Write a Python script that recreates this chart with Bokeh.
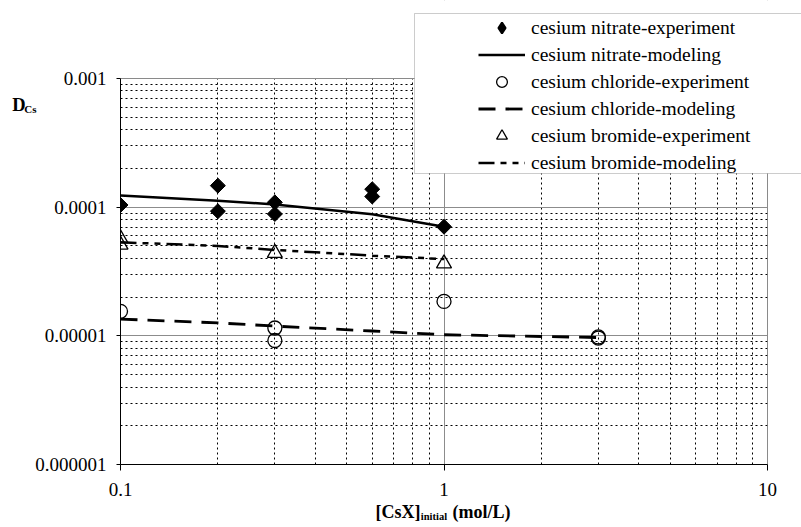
import math
from bokeh.plotting import figure
from bokeh.models import (Range1d, FixedTicker, Legend, LegendItem, BoxAnnotation, LogAxis)
from bokeh.embed import file_html
from bokeh.resources import INLINE

# ---- data ----
nitrate_exp_x = [0.1, 0.2, 0.2, 0.3, 0.3, 0.6, 0.6, 1.0]
nitrate_exp_y = [1.04e-4, 1.47e-4, 9.3e-5, 1.09e-4, 8.85e-5, 1.38e-4, 1.21e-4, 7.05e-5]
nitrate_mod_x = [0.1, 0.2, 0.3, 0.6, 1.0]
nitrate_mod_y = [1.23e-4, 1.12e-4, 1.05e-4, 8.8e-5, 7.05e-5]

chloride_exp_x = [0.1, 0.3, 0.3, 1.0, 3.0, 3.0]
chloride_exp_y = [1.55e-5, 1.15e-5, 9.2e-6, 1.85e-5, 9.8e-6, 9.6e-6]
chloride_mod_x = [0.1, 0.2, 0.3, 0.6, 1.0, 3.0]
chloride_mod_y = [1.35e-5, 1.26e-5, 1.19e-5, 1.09e-5, 1.02e-5, 9.7e-6]

bromide_exp_x = [0.1, 0.1, 0.3, 1.0]
bromide_exp_y = [5.7e-5, 5.1e-5, 4.4e-5, 3.65e-5]
bromide_mod_x = [0.1, 0.2, 0.3, 0.6, 1.0]
bromide_mod_y = [5.33e-5, 5.0e-5, 4.65e-5, 4.2e-5, 3.95e-5]

x_ticks = [0.1, 1, 10]
x_tick_labels = ["0.1", "1", "10"]
y_ticks = [1e-6, 1e-5, 1e-4, 1e-3]
y_tick_labels = ["0.000001", "0.00001", "0.0001", "0.001"]

legend_labels = ["cesium nitrate-experiment", "cesium nitrate-modeling",
                 "cesium chloride-experiment", "cesium chloride-modeling",
                 "cesium bromide-experiment", "cesium bromide-modeling"]

FONT = "Liberation Serif"

# ---- layout (pixels) ----
W, H = 801, 527
PL, PR, PT, PB = 120, 767, 78, 464        # plot-area box in the picture
X0, X1 = 0.1, 10.0
Y0, Y1 = 1e-6, 1e-3
dec_x = (PR - PL) / (math.log10(X1) - math.log10(X0))
dec_y = (PB - PT) / (math.log10(Y1) - math.log10(Y0))
# the frame reaches the right and top edges so that the legend can overlap it
x_end = 10 ** (math.log10(X0) + (W - PL) / dec_x)
y_end = 10 ** (math.log10(Y0) + PB / dec_y)


def px_to_x(px):
    return 10 ** (math.log10(X0) + (px - PL) / dec_x)


def py_to_y(py):
    return 10 ** (math.log10(Y0) + (PB - py) / dec_y)


p = figure(width=W, height=H, x_axis_type="log", y_axis_type="log",
           x_range=Range1d(X0, x_end), y_range=Range1d(Y0, y_end),
           output_backend="svg", toolbar_location=None, title_location=None,
           min_border_left=PL, min_border_right=0,
           min_border_top=0, min_border_bottom=H - PB)
p.outline_line_color = None
p.background_fill_color = "white"
p.border_fill_color = "white"

x_minor = [k * 10.0 ** e for e in (-1, 0) for k in range(2, 10)]
y_minor = [k * 10.0 ** e for e in (-6, -5, -4) for k in range(2, 10)]
p.xaxis.ticker = FixedTicker(ticks=x_ticks, minor_ticks=x_minor)
p.yaxis.ticker = FixedTicker(ticks=y_ticks, minor_ticks=y_minor)
p.xaxis.major_label_overrides = dict(zip(x_ticks, x_tick_labels))
p.yaxis.major_label_overrides = dict(zip(y_ticks, y_tick_labels))
p.xaxis.bounds = (X0, X1)
p.yaxis.bounds = (Y0, Y1)

for ax in (p.xaxis, p.yaxis):
    ax.axis_line_color = "black"
    ax.major_tick_line_color = "black"
    ax.minor_tick_line_color = None
    ax.major_tick_in = 0
    ax.major_label_text_font = FONT
    ax.major_label_text_font_size = "19px"
    ax.major_label_text_color = "black"
p.xaxis.major_tick_out = 6
p.yaxis.major_tick_out = 4
p.xaxis.major_label_standoff = 12
p.yaxis.major_label_standoff = 10

for g in (p.xgrid, p.ygrid):
    g.grid_line_color = "#8c8c8c"
    g.grid_line_width = 1
    g.minor_grid_line_color = "black"
    g.minor_grid_line_dash = "2 3"
    g.minor_grid_line_width = 1

# white masks outside the plot area, then the plot-area border
p.add_layout(BoxAnnotation(left=X1, fill_color="white", fill_alpha=1, line_color=None,
                           level="underlay"))
p.add_layout(BoxAnnotation(bottom=Y1, fill_color="white", fill_alpha=1, line_color=None,
                           level="underlay"))
p.add_layout(BoxAnnotation(left=X0, right=X1, bottom=Y0, top=Y1, fill_alpha=0,
                           line_color="black", line_width=1, level="underlay"))

# ---- glyphs ----
r_nm = p.line(nitrate_mod_x, nitrate_mod_y, line_color="black", line_width=2.5)
r_cm = p.line(chloride_mod_x, chloride_mod_y, line_color="black", line_width=2.8,
              line_dash="17 10")
r_bm = p.line(bromide_mod_x, bromide_mod_y, line_color="black", line_width=2.5,
              line_dash="16 6 6 6 6 6")
r_ne = p.scatter(nitrate_exp_x, nitrate_exp_y, marker="square", angle=math.pi / 4,
                 size=10.6, fill_color="black", line_color="black")
r_ce = p.scatter(chloride_exp_x, chloride_exp_y, marker="circle", size=14,
                 fill_color=None, line_color="black", line_width=1.3)
r_be = p.scatter(bromide_exp_x, bromide_exp_y, marker="triangle", size=15,
                 fill_color=None, line_color="black", line_width=1.3)
# legend swatch for the diamonds (the legend does not rotate markers)
r_ne_key = p.scatter([float("nan")], [float("nan")], marker="diamond", size=10,
                     fill_color="black", line_color="black", line_width=2)

# ---- legend box + legend ----
LG_L, LG_T, LG_B = 414, 13, 173
p.add_layout(BoxAnnotation(left=LG_L - PL, right=W + 50 - PL, top=PB - LG_T, bottom=PB - LG_B,
                           left_units="screen", right_units="screen",
                           top_units="screen", bottom_units="screen",
                           fill_color="white", fill_alpha=1.0,
                           line_color="#555555", line_width=1))

legend = Legend(items=[
    LegendItem(label=legend_labels[0], renderers=[r_ne_key]),
    LegendItem(label=legend_labels[1], renderers=[r_nm]),
    LegendItem(label=legend_labels[2], renderers=[r_ce]),
    LegendItem(label=legend_labels[3], renderers=[r_cm]),
    LegendItem(label=legend_labels[4], renderers=[r_be]),
    LegendItem(label=legend_labels[5], renderers=[r_bm]),
], location=(478 - PL, PB - 176), orientation="vertical",
    border_line_color=None, background_fill_alpha=0.0,
    padding=0, margin=0, spacing=0,
    glyph_width=47, glyph_height=27, label_height=27, label_standoff=6,
    label_text_font=FONT, label_text_font_size="19.5px", label_text_color="black")
p.add_layout(legend, "center")


# ---- axis titles (as tick labels of bare extra axes) ----
def title_axis(positions, texts, size, standoff):
    return LogAxis(ticker=FixedTicker(ticks=positions, minor_ticks=[]),
                   major_label_overrides=dict(zip(positions, texts)),
                   axis_line_color=None, major_tick_line_color=None,
                   minor_tick_line_color=None, major_tick_out=0, major_tick_in=0,
                   major_label_standoff=standoff,
                   major_label_text_font=FONT, major_label_text_font_style="bold",
                   major_label_text_font_size=size, major_label_text_color="black")


cs_pos = py_to_y(108)
d_pos = py_to_y(104)
p.add_layout(title_axis([cs_pos], ["Cs"], "11px", -4), "left")
p.add_layout(title_axis([d_pos], ["D"], "18.5px", -4), "left")

xt_main = [px_to_x(397.5), px_to_x(481)]
xt_sub = [px_to_x(433.5)]
p.add_layout(title_axis(xt_main, ["[CsX]", "(mol/L)"], "18px", 3), "below")
p.add_layout(title_axis(xt_sub, ["initial"], "10.5px", -14), "below")

open("out.html", "w").write(file_html(p, INLINE))
